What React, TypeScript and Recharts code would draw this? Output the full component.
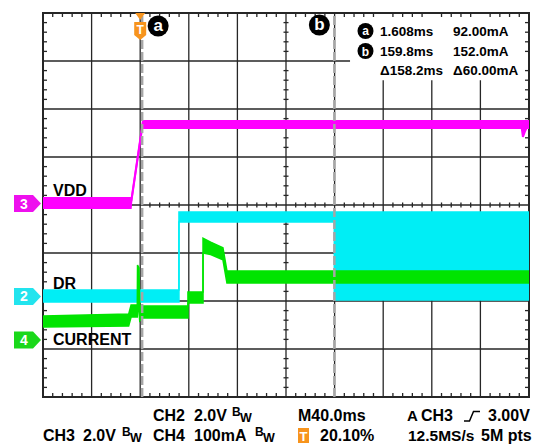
import {
  Area,
  CartesianGrid,
  ComposedChart,
  ReferenceArea,
  ReferenceDot,
  ReferenceLine,
  Scatter,
  XAxis,
  YAxis,
} from "recharts"

// time base: 40 ms/div, trigger at 20.10 %
const timeTicks = [-80, -40, 0, 40, 80, 120, 160, 200, 240, 280, 320]
const divTicks = [-4, -3, -2, -1, 0, 1, 2, 3, 4]

// cursors (ms)
const cursorA = 1.608
const cursorB = 159.8

// CH3 - VDD, 2 V/div (min / max envelope in volts)
const vddTime = [-80, -7.8, -7.4, 2.2, 2.6, 314.0, 315.0, 316.6, 318.0, 320]
const vddMin = [-0.19, -0.19, 0.05, 3.36, 3.15, 3.15, 2.78, 3.0, 3.15, 3.15]
const vddMax = [0.23, 0.23, 0.1, 3.42, 3.44, 3.44, 3.44, 3.44, 3.44, 3.44]

// CH2 - DR, 2 V/div
const drTime = [-80, 31.9, 31.9, 159.8, 159.8, 320]
const drMin = [-0.23, -0.23, 3.1, 3.1, -0.15, -0.15]
const drMax = [0.27, 0.27, 3.52, 3.52, 3.52, 3.52]

// CH4 - CURRENT, 100 mA/div
const curTime = [-80, -9.5, -7.5, -2.4, -2.2, -1.0, -0.4, 1.6, 39.3, 39.3, 51.7, 51.7, 58, 68.1, 71.4, 320]
const curMin = [27, 29, 48, 48, 60, 60, 40, 46, 46, 77, 77, 181, 178, 167, 119, 119]
const curMax = [50, 54, 73, 73, 156, 150, 72, 71, 71, 100, 100, 212, 204, 192, 144, 144]

// channel settings: units per division and ground offset in divisions
const ch3 = { perDiv: 2, offset: 0.03 }
const ch2 = { perDiv: 2, offset: -1.906 }
const ch4 = { perDiv: 100, offset: -2.8125 }

const MAGENTA = "#ff00ff"
const CYAN = "#00eef5"
const GREEN = "#00e400"
const ORANGE = "#f7941d"
const GRID = "#262626"
const FONT = "'Liberation Sans', Arial, sans-serif"

// measurement readout box covers the grid from here to the right edge
const boxStart = 172.7
const boxBottom = 2.6

const toRows = (t: number[], lo: number[], hi: number[], ch: { perDiv: number; offset: number }) =>
  t.map((x, i) => ({ t: x, v: [ch.offset + lo[i] / ch.perDiv, ch.offset + hi[i] / ch.perDiv] }))

const vddRows = toRows(vddTime, vddMin, vddMax, ch3)
const drRows = toRows(drTime, drMin, drMax, ch2)
const curRows = toRows(curTime, curMin, curMax, ch4)

// minor graticule ticks, 5 per division
const minorX: number[] = []
for (let i = 0; i <= 50; i++) if (i % 5 !== 0) minorX.push(-80 + i * 8)
const minorY: number[] = []
for (let i = -20; i <= 20; i++) if (i % 5 !== 0) minorY.push(i / 5)

const topTicks = minorX.map((t) => ({ t, y: 4 }))
const bottomTicks = minorX.map((t) => ({ t, y: -4 }))
const midHTicks = minorX.map((t) => ({ t, y: 0 }))
const leftTicks = minorY.map((y) => ({ t: -80, y }))
const rightTicks = minorY.map((y) => ({ t: 320, y }))
const midVTicks = minorY.map((y) => ({ t: 120, y }))

const tick = (x1: number, y1: number, x2: number, y2: number) => (p: any) =>
  <line x1={p.cx + x1} y1={p.cy + y1} x2={p.cx + x2} y2={p.cy + y2} stroke={GRID} strokeWidth={1.3} />

const channelMarker = (label: string, color: string) => (p: any) => (
  <g>
    <polygon
      points={`${p.cx - 29},${p.cy - 8.5} ${p.cx - 10},${p.cy - 8.5} ${p.cx - 2},${p.cy} ${p.cx - 10},${p.cy + 8.5} ${p.cx - 29},${p.cy + 8.5}`}
      fill={color}
    />
    <text x={p.cx - 19} y={p.cy + 5} fill="#fff" fontSize={14} fontWeight="bold" fontFamily={FONT} textAnchor="middle">
      {label}
    </text>
  </g>
)

const triggerMarker = (p: any) => (
  <g>
    <polygon points={`${p.cx - 5},${p.cy} ${p.cx + 5},${p.cy} ${p.cx},${p.cy + 7}`} fill={ORANGE} />
    <polygon
      points={`${p.cx - 6},${p.cy + 9} ${p.cx + 6},${p.cy + 9} ${p.cx + 6},${p.cy + 22} ${p.cx},${p.cy + 27} ${p.cx - 6},${p.cy + 22}`}
      fill={ORANGE}
    />
    <text x={p.cx} y={p.cy + 21} fill="#fff" fontSize={12} fontWeight="bold" fontFamily={FONT} textAnchor="middle">
      T
    </text>
  </g>
)

const cursorBadge = (label: string, dx: number, dy: number) => (p: any) => (
  <g>
    <circle cx={p.cx + dx} cy={p.cy + dy} r={10.5} fill="#000" />
    <text x={p.cx + dx} y={p.cy + dy + 5} fill="#fff" fontSize={17} fontWeight="bold" fontFamily={FONT} textAnchor="middle">
      {label}
    </text>
  </g>
)

function Bw({ x, y }: { x: number; y: number }) {
  return (
    <>
      <text x={x} y={y - 5} fontSize={12}>B</text>
      <text x={x + 8} y={y + 1} fontSize={12.5}>W</text>
    </>
  )
}

const ROW1 = 421
const ROW2 = 440.5

export default function App() {
  return (
    <div style={{ position: "absolute", left: 0, top: 0, width: 539, height: 444, background: "#fff" }}>
      <ComposedChart width={539} height={444} margin={{ top: 13, right: 10, bottom: 47, left: 43 }}>
        <XAxis dataKey="t" type="number" domain={[-80, 320]} ticks={timeTicks} allowDataOverflow hide />
        <YAxis type="number" domain={[-4, 4]} ticks={divTicks} allowDataOverflow hide />
        <CartesianGrid stroke={GRID} strokeWidth={1.3} />
        <ReferenceArea x1={boxStart} x2={320} y1={boxBottom} y2={4} fill="#fff" fillOpacity={1} stroke="none" zIndex={-90} />
        <ReferenceArea x1={-80} x2={320} y1={-4} y2={4} fill="none" stroke={GRID} strokeWidth={2} zIndex={-80} />
        <Scatter data={topTicks} dataKey="y" shape={tick(0, 0, 0, 4)} isAnimationActive={false} zIndex={-70} />
        <Scatter data={bottomTicks} dataKey="y" shape={tick(0, 0, 0, -4)} isAnimationActive={false} zIndex={-70} />
        <Scatter data={midHTicks} dataKey="y" shape={tick(0, -2.5, 0, 2.5)} isAnimationActive={false} zIndex={-70} />
        <Scatter data={leftTicks} dataKey="y" shape={tick(0, 0, 4, 0)} isAnimationActive={false} zIndex={-70} />
        <Scatter data={rightTicks} dataKey="y" shape={tick(0, 0, -4, 0)} isAnimationActive={false} zIndex={-70} />
        <Scatter data={midVTicks} dataKey="y" shape={tick(-2.5, 0, 2.5, 0)} isAnimationActive={false} zIndex={-70} />

        <Area data={drRows} dataKey="v" type="linear" fill={CYAN} fillOpacity={1} stroke={CYAN} strokeWidth={1.5}
          dot={false} activeDot={false} isAnimationActive={false} zIndex={100} />
        <Area data={curRows} dataKey="v" type="linear" fill={GREEN} fillOpacity={1} stroke={GREEN} strokeWidth={1.5}
          dot={false} activeDot={false} isAnimationActive={false} zIndex={101} />
        <Area data={vddRows} dataKey="v" type="linear" fill={MAGENTA} fillOpacity={1} stroke={MAGENTA} strokeWidth={2}
          dot={false} activeDot={false} isAnimationActive={false} zIndex={102} />

        <ReferenceLine x={cursorA} stroke="#a6a6a6" strokeWidth={2.5} strokeDasharray="9 3" zIndex={200} />
        <ReferenceLine x={cursorB} stroke="#a6a6a6" strokeWidth={2.5} strokeDasharray="9 3" zIndex={200} />

        <ReferenceDot x={0} y={4} ifOverflow="visible" shape={triggerMarker} zIndex={300} />
        <ReferenceDot x={cursorA} y={4} ifOverflow="visible" shape={cursorBadge("a", 16, 13)} zIndex={300} />
        <ReferenceDot x={cursorB} y={4} ifOverflow="visible" shape={cursorBadge("b", -15, 12)} zIndex={300} />
        <ReferenceDot x={-80} y={ch3.offset} ifOverflow="visible" shape={channelMarker("3", "#ee10ee")} zIndex={300} />
        <ReferenceDot x={-80} y={ch2.offset} ifOverflow="visible" shape={channelMarker("2", "#22e4ee")} zIndex={300} />
        <ReferenceDot x={-80} y={ch4.offset} ifOverflow="visible" shape={channelMarker("4", "#1ad81a")} zIndex={300} />
      </ComposedChart>

      <svg width={539} height={444} style={{ position: "absolute", left: 0, top: 0, pointerEvents: "none" }}
        fontFamily={FONT} fontWeight="bold" fill="#000">
        {/* channel names */}
        <text x={53} y={196} fontSize={16}>VDD</text>
        <text x={53} y={288.5} fontSize={16}>DR</text>
        <text x={53} y={345} fontSize={16}>CURRENT</text>

        {/* cursor readout */}
        <circle cx={365.5} cy={31} r={8} fill="#000" />
        <text x={365.5} y={35} fontSize={12} fill="#fff" textAnchor="middle">a</text>
        <circle cx={365.5} cy={51} r={8} fill="#000" />
        <text x={365.5} y={55.5} fontSize={12} fill="#fff" textAnchor="middle">b</text>
        <text x={380} y={35.7} fontSize={13.5}>1.608ms</text>
        <text x={453} y={35.7} fontSize={13.5}>92.00mA</text>
        <text x={380} y={56} fontSize={13.5}>159.8ms</text>
        <text x={453} y={56} fontSize={13.5}>152.0mA</text>
        <text x={380} y={74.5} fontSize={13.5}>Δ158.2ms</text>
        <text x={453} y={74.5} fontSize={13.5}>Δ60.00mA</text>

        {/* scope settings */}
        <text x={153} y={ROW1} fontSize={16}>CH2</text>
        <text x={194} y={ROW1} fontSize={16}>2.0V</text>
        <Bw x={232} y={ROW1} />
        <text x={298} y={ROW1} fontSize={16}>M40.0ms</text>
        <text x={407} y={ROW1} fontSize={15}>A</text>
        <text x={421} y={ROW1} fontSize={16}>CH3</text>
        <path d="M464,421 L469.5,421 L473.5,411.5 L480,411.5" stroke="#000" strokeWidth={1.5} fill="none" />
        <text x={488} y={ROW1} fontSize={16}>3.00V</text>

        <text x={43} y={ROW2} fontSize={16}>CH3</text>
        <text x={83} y={ROW2} fontSize={16}>2.0V</text>
        <Bw x={122} y={ROW2} />
        <text x={153} y={ROW2} fontSize={16}>CH4</text>
        <text x={194} y={ROW2} fontSize={16}>100mA</text>
        <Bw x={255} y={ROW2} />
        <rect x={298} y={428} width={11} height={15} fill={ORANGE} />
        <text x={303.5} y={440.5} fontSize={13} fill="#fff" textAnchor="middle">T</text>
        <text x={320} y={ROW2} fontSize={16}>20.10%</text>
        <text x={408} y={ROW2} fontSize={15.5}>12.5MS/s</text>
        <text x={481} y={ROW2} fontSize={16}>5M pts</text>
      </svg>
    </div>
  )
}
